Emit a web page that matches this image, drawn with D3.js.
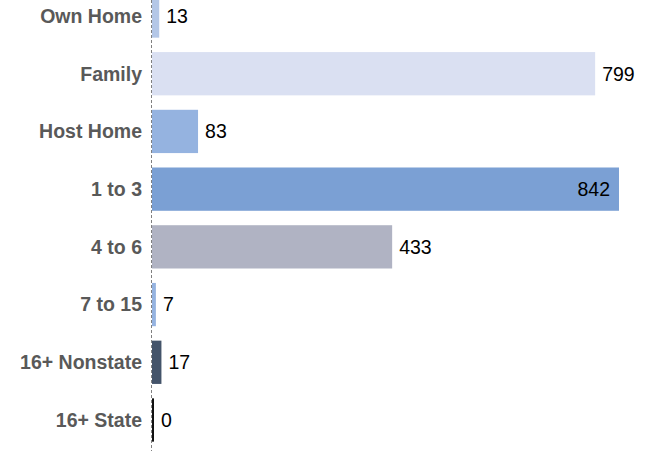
<!DOCTYPE html>
<html><head><meta charset="utf-8">
<script src="https://cdn.jsdelivr.net/npm/d3@7"></script>
<style>body{margin:0;background:#fff}svg{display:block}</style>
</head><body>
<svg id="c" width="645" height="451"></svg>
<script>
const categories = ["Own Home","Family","Host Home","1 to 3","4 to 6","7 to 15","16+ Nonstate","16+ State"];
const values = [13,799,83,842,433,7,17,0];
const colors = ["#b4c7e7","#dae0f2","#95b3e0","#7ba0d4","#b0b3c3","#95b3e0","#44546a","#111111"];

const svg = d3.select("#c");
const x0 = 152;
const x = d3.scaleLinear().domain([0,842]).range([x0, 619]);
const y = d3.scaleBand().domain(categories).range([-12.85, 448.85]).paddingInner(0.25).paddingOuter(0.125);

const g = svg.append("g");
g.selectAll("rect").data(categories).join("rect")
  .attr("x", x0)
  .attr("y", d => y(d))
  .attr("height", y.bandwidth())
  .attr("width", (d,i) => Math.max(2, x(values[i]) - x0))
  .attr("fill", (d,i) => colors[i]);

svg.append("line").attr("x1",151.5).attr("x2",151.5).attr("y1",0).attr("y2",451)
  .attr("stroke","#808080").attr("stroke-width",1).attr("stroke-dasharray","3,2");

g.selectAll("text.cat").data(categories).join("text").attr("class","cat")
  .attr("x", 142).attr("y", d => y(d) + y.bandwidth()/2)
  .attr("dy","0.35em").attr("text-anchor","end")
  .attr("font-family","Liberation Sans, Arial, sans-serif").attr("font-weight","bold")
  .attr("font-size",19.5).attr("fill","#595959").text(d => d);

g.selectAll("text.val").data(categories).join("text").attr("class","val")
  .attr("x", (d,i) => i===3 ? x(values[i]) - 9 : Math.max(x(values[i]), x0+2) + 7)
  .attr("y", d => y(d) + y.bandwidth()/2)
  .attr("dy","0.35em").attr("text-anchor", (d,i) => i===3 ? "end" : "start")
  .attr("font-family","Liberation Sans, Arial, sans-serif")
  .attr("font-size",19.5).attr("fill","#000").text((d,i) => values[i]);
</script>
</body></html>
